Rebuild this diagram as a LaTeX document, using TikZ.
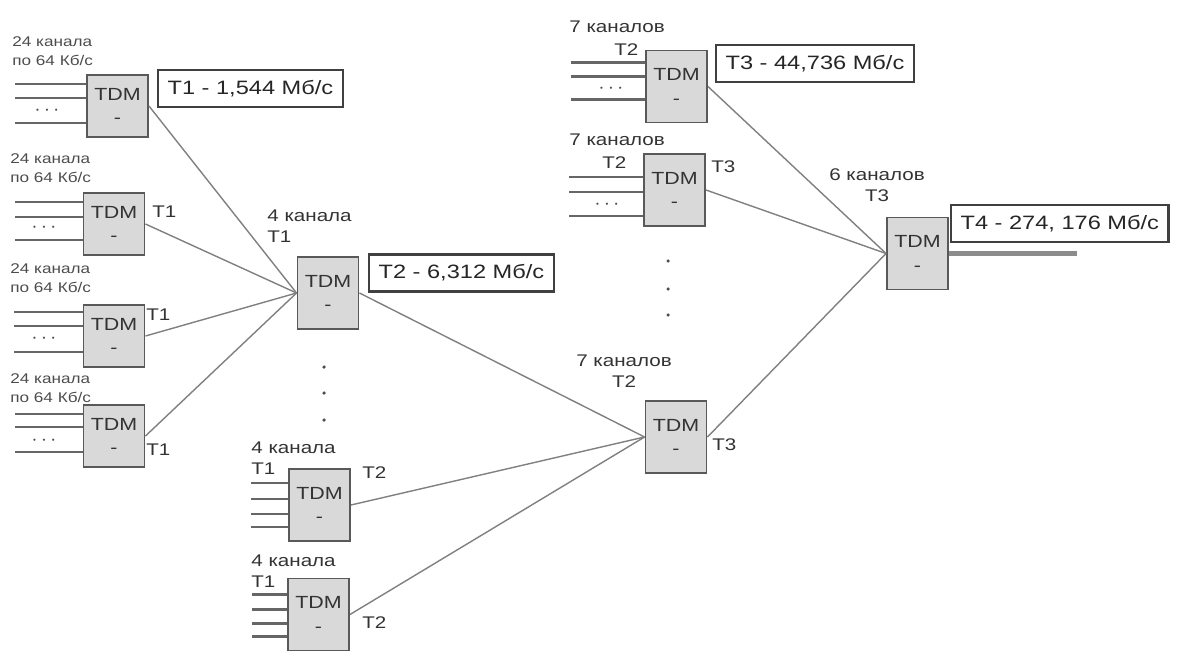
\documentclass[tikz,border=0pt]{standalone}
\usepackage{fontspec}
\setmainfont{Liberation Sans}[FakeStretch=1.22]
\usetikzlibrary{positioning}

\tikzset{
  tdm/.style={draw=black!65,line width=1.1pt,fill=gray!30,minimum width=12.2mm,minimum height=14.4mm,align=center,inner sep=0pt,font=\fontsize{10}{12.5}\selectfont,text=black!80},
  tdms/.style={tdm,minimum height=12.4mm},
  rate/.style={draw=black!75,line width=1.3pt,fill=white,anchor=west,inner xsep=1.9mm,inner ysep=0pt,minimum height=7.4mm,font=\fontsize{11}{12}\selectfont,text=black!85},
  lbl/.style={font=\fontsize{9.6}{12}\selectfont,text=black!80,inner sep=0pt},
  slbl/.style={font=\fontsize{8}{10.5}\selectfont,text=black!70,align=left,inner sep=0pt,anchor=west},
  link/.style={draw=black!50,line width=0.8pt},
  inp/.style={draw=black!60,line width=1.5pt},
  dotsn/.style={font=\fontsize{13}{13}\selectfont,text=black!70,inner sep=0pt}
}

\begin{document}
\begin{tikzpicture}[x=0.2mm,y=-0.2mm]
\useasboundingbox (0,0) rectangle (1177,652);

% first level, 24 channels each
\node[tdms] (A) at (117.5,106) {TDM\\[1pt]-};
\node[tdms] (B) at (114,224) {TDM\\[1pt]-};
\node[tdms] (C) at (114,336) {TDM\\[1pt]-};
\node[tdms] (D) at (114,436) {TDM\\[1pt]-};

% second level
\node[tdm] (E) at (328,293) {TDM\\[1pt]-};
\node[tdm] (F) at (319.5,505) {TDM\\[1pt]-};
\node[tdm] (G) at (318.5,614.5) {TDM\\[1pt]-};

% third level
\node[tdm] (H) at (676.5,86.5) {TDM\\[1pt]-};
\node[tdm] (I) at (674.5,190) {TDM\\[1pt]-};
\node[tdm] (J) at (676,437) {TDM\\[1pt]-};

% fourth level
\node[tdm] (K) at (917.5,253.5) {TDM\\[1pt]-};

% rates
\node[rate] (rA) at (157,88.5) {T1 - 1,544 Мб/с};
\node[rate] (rE) at (368,273) {T2 - 6,312 Мб/с};
\node[rate] (rH) at (715,63.5) {T3 - 44,736 Мб/с};
\node[rate] (rK) at (950,223.5) {T4 - 274, 176 Мб/с};

% inputs of the first level
\draw[inp] (A.west) ++(0,-22) -- ++(-71,0);
\draw[inp] (A.west) ++(0,-8) -- ++(-71,0);
\draw[inp] (A.west) ++(0,17) -- ++(-71,0);
\node[dotsn] (dA) at (47,111) {$\cdots$};
\draw[inp] (B.west) ++(0,-22) -- ++(-68,0);
\draw[inp] (B.west) ++(0,-7) -- ++(-68,0);
\draw[inp] (B.west) ++(0,16) -- ++(-68,0);
\node[dotsn] (dB) at (44,228) {$\cdots$};
\draw[inp] (C.west) ++(0,-24) -- ++(-69,0);
\draw[inp] (C.west) ++(0,-10) -- ++(-69,0);
\draw[inp] (C.west) ++(0,16) -- ++(-69,0);
\node[dotsn] (dC) at (44,339) {$\cdots$};
\draw[inp] (D.west) ++(0,-22) -- ++(-68,0);
\draw[inp] (D.west) ++(0,-9) -- ++(-68,0);
\draw[inp] (D.west) ++(0,16) -- ++(-68,0);
\node[dotsn] (dD) at (44,441) {$\cdots$};

% inputs of F and G
\draw[inp] (F.west) ++(0,-22) -- ++(-37,0);
\draw[inp] (F.west) ++(0,-6) -- ++(-37,0);
\draw[inp] (F.west) ++(0,9) -- ++(-37,0);
\draw[inp] (F.west) ++(0,22) -- ++(-37,0);
\draw[inp] (G.west) ++(0,-20) -- ++(-35,0);
\draw[inp] (G.west) ++(0,-5) -- ++(-35,0);
\draw[inp] (G.west) ++(0,9) -- ++(-35,0);
\draw[inp] (G.west) ++(0,22) -- ++(-35,0);

% inputs of H and I
\draw[inp] (H.west) ++(0,-24) -- ++(-74,0);
\draw[inp] (H.west) ++(0,-10) -- ++(-74,0);
\draw[inp] (H.west) ++(0,13) -- ++(-74,0);
\node[dotsn] (dH) at (611,89) {$\cdots$};
\draw[inp] (I.west) ++(0,-13) -- ++(-74,0);
\draw[inp] (I.west) ++(0,2) -- ++(-74,0);
\draw[inp] (I.west) ++(0,26) -- ++(-74,0);
\node[dotsn] (dI) at (607,205) {$\cdots$};

% links
\draw[link] (A.east) -- (E.west);
\draw[link] (B.east) -- (E.west);
\draw[link] (C.east) -- (E.west);
\draw[link] (D.east) -- (E.west);
\draw[link] (E.east) -- (J.west);
\draw[link] (F.east) -- (J.west);
\draw[link] (G.east) -- (J.west);
\draw[link] (H.east) -- (K.west);
\draw[link] (I.east) -- (K.west);
\draw[link] (J.east) -- (K.west);
\coordinate (out) at (1077,253.5);
\draw[draw=black!45,line width=2.8pt] (K.east) -- (out);

% vertical dots
\fill[black!70] (324,367) circle (1pt);
\fill[black!70] (324,393) circle (1pt);
\fill[black!70] (324,420) circle (1pt);
\fill[black!70] (668,261) circle (1pt);
\fill[black!70] (668,289) circle (1pt);
\fill[black!70] (668,315) circle (1pt);

% channel labels
\node[slbl] (nA) at (12,51) {24 канала\\по 64 Кб/с};
\node[slbl] (nB) at (10,168) {24 канала\\по 64 Кб/с};
\node[slbl] (nC) at (10,278) {24 канала\\по 64 Кб/с};
\node[slbl] (nD) at (10,388) {24 канала\\по 64 Кб/с};
\node[lbl,anchor=west] (tB) at (152,212) {T1};
\node[lbl,anchor=west] (tC) at (146,315) {T1};
\node[lbl,anchor=west] (tD) at (146,450) {T1};

\node[lbl,anchor=west,align=left] (nE) at (267,226) {4 канала\\T1};
\node[lbl,anchor=west,align=left] (nF) at (251,458) {4 канала\\T1};
\node[lbl,anchor=west,align=left] (nG) at (251,571) {4 канала\\T1};
\node[lbl,anchor=west] (tF) at (362,473) {T2};
\node[lbl,anchor=west] (tG) at (362,623) {T2};

\node[lbl,anchor=west] (nH) at (569,27) {7 каналов};
\node[lbl,anchor=west] (sH) at (614,50) {T2};
\node[lbl,anchor=west] (nI) at (569,140) {7 каналов};
\node[lbl,anchor=west] (sI) at (602,163) {T2};
\node[lbl,anchor=west] (tI) at (711,167) {T3};
\node[lbl,align=center] (nJ) at (624,371) {7 каналов\\T2};
\node[lbl,anchor=west] (tJ) at (712,445) {T3};
\node[lbl,align=center] (nK) at (877,185) {6 каналов\\T3};

\end{tikzpicture}
\end{document}
